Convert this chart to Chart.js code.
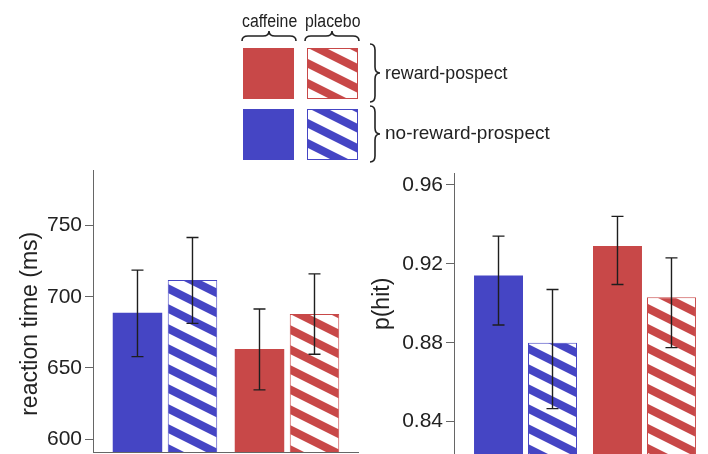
<!DOCTYPE html>
<html lang="en">
<head>
<meta charset="UTF-8">
<title>Caffeine / reward prospect</title>
<script src="https://cdn.jsdelivr.net/npm/chart.js"></script>
<style>
body{margin:0;width:708px;height:454px;overflow:hidden;background:#fff;position:relative;font-family:"Liberation Sans",Arial,sans-serif;color:#222;}
canvas,svg{position:absolute;}
.lbl{position:absolute;white-space:nowrap;line-height:24px;transform-origin:left center;}
</style>
</head>
<body>

<!-- Legend -->
<canvas id="legendBoxes" width="160" height="170" style="left:230px;top:0"></canvas>
<svg width="708" height="170" style="left:0;top:0" fill="none" stroke="#222" stroke-width="1.6">
  <path d="M242,41 Q242,36 248,36 L263,36 Q269,36 269,31 Q269,36 275,36 L290,36 Q296,36 296,41"/>
  <path d="M305,41 Q305,36 311,36 L326,36 Q332,36 332,31 Q332,36 338,36 L353,36 Q359,36 359,41"/>
  <path d="M370,44 Q375,44 375,50 L375,67 Q375,73 380,73 Q375,73 375,79 L375,96 Q375,102 370,102"/>
  <path d="M370,106 Q375,106 375,112 L375,128 Q375,134 380,134 Q375,134 375,140 L375,156 Q375,162 370,162"/>
</svg>
<div class="lbl" style="left:242px;top:9px;font-size:18px;transform:scaleX(0.88)">caffeine</div>
<div class="lbl" style="left:305px;top:9px;font-size:18px;transform:scaleX(0.88)">placebo</div>
<div class="lbl" style="left:385px;top:61px;font-size:17.8px">reward-pospect</div>
<div class="lbl" style="left:385px;top:121px;font-size:19px">no-reward-prospect</div>

<!-- Charts -->
<canvas id="rtChart" width="360" height="340" style="left:0;top:140px"></canvas>
<canvas id="hitChart" width="348" height="340" style="left:360px;top:140px"></canvas>

<script>
// groups: blue = no reward prospect, red = reward prospect
const groups = ["no-reward-prospect", "reward-prospect"];
const conditions = ["caffeine", "placebo"];

const rtCaffeine   = [688.8, 663.3];
const rtPlacebo    = [711.7, 687.9];
const rtCaffeineLo = [658.0, 634.6];
const rtCaffeineHi = [718.7, 691.4];
const rtPlaceboLo  = [681.3, 659.6];
const rtPlaceboHi  = [741.6, 716.1];
const rtTicks = [600, 650, 700, 750];

const hitCaffeine   = [0.914, 0.929];
const hitPlacebo    = [0.880, 0.903];
const hitCaffeineLo = [0.889, 0.9095];
const hitCaffeineHi = [0.934, 0.944];
const hitPlaceboLo  = [0.8466, 0.8775];
const hitPlaceboHi  = [0.907, 0.923];
const hitTicks = [0.84, 0.88, 0.92, 0.96];

const BLUE = "#4545c4";
const RED = "#c84848";
const AXIS = "#666";

Chart.defaults.font.family = '"Liberation Sans", Arial, sans-serif';
Chart.defaults.color = "#222";

function stripes(color){
    const c = document.createElement("canvas");
    c.width = 40; c.height = 20;
    const g = c.getContext("2d");
    g.fillStyle = "#fff";
    g.fillRect(0,0,40,20);
    g.fillStyle = color;
    for(let k=-2;k<=1;k++){
        g.beginPath();
        g.moveTo(0,k*20); g.lineTo(40,k*20+20); g.lineTo(40,k*20+29); g.lineTo(0,k*20+9);
        g.closePath(); g.fill();
    }
    return g.createPattern(c,"repeat");
}
const blueStripes = stripes(BLUE);
const redStripes = stripes(RED);

// legend squares
(function(){
    const g = document.getElementById("legendBoxes").getContext("2d");
    const box = (x,y,fill,stroke) => {
        g.fillStyle = fill; g.fillRect(x,y,51,51);
        if(stroke){ g.strokeStyle = stroke; g.lineWidth = 1; g.strokeRect(x+0.5,y+0.5,50,50); }
    };
    box(13,48,RED);
    box(77,48,redStripes,RED);
    box(13,109,BLUE);
    box(77,109,blueStripes,BLUE);
})();

const errorBars = {
    id: "errorBars",
    afterDatasetsDraw(chart){
        const {ctx, scales:{y}} = chart;
        ctx.save();
        ctx.strokeStyle = "#1e1e1e";
        ctx.lineWidth = 1.4;
        chart.data.datasets.forEach((ds,i) => {
            chart.getDatasetMeta(i).data.forEach((bar,j) => {
                const top = y.getPixelForValue(ds.hi[j]);
                const bot = y.getPixelForValue(ds.lo[j]);
                ctx.beginPath();
                ctx.moveTo(bar.x,top); ctx.lineTo(bar.x,bot);
                ctx.moveTo(bar.x-6,top); ctx.lineTo(bar.x+6,top);
                ctx.moveTo(bar.x-6,bot); ctx.lineTo(bar.x+6,bot);
                ctx.stroke();
            });
        });
        ctx.restore();
    }
};

function makeChart(id, cfg){
    const pts = arr => arr.map((v,i) => ({x:i, y:v}));
    return new Chart(document.getElementById(id), {
        type: "bar",
        data: {
            labels: groups,
            datasets: [
                {label: conditions[0], data: pts(cfg.caf), lo: cfg.cafLo, hi: cfg.cafHi,
                 backgroundColor: [BLUE, RED], borderWidth: 0},
                {label: conditions[1], data: pts(cfg.pla), lo: cfg.plaLo, hi: cfg.plaHi,
                 backgroundColor: [blueStripes, redStripes], borderColor: [BLUE, RED], borderWidth: 1}
            ]
        },
        options: {
            responsive: false,
            animation: false,
            categoryPercentage: cfg.catPct,
            barPercentage: cfg.barPct,
            layout: {padding: cfg.padding},
            plugins: {legend: {display:false}, tooltip: {enabled:false}},
            scales: {
                x: {
                    type: "linear", offset: false, min: cfg.xMin, max: cfg.xMax, display: cfg.xLine,
                    afterBuildTicks: s => { s.ticks = groups.map((g,i) => ({value:i})); },
                    ticks: {display:false},
                    grid: {display:false, drawTicks:false, offset:false},
                    border: {display:true, color:AXIS, width:1}
                },
                y: {
                    min: cfg.yMin, max: cfg.yMax,
                    afterBuildTicks: s => { s.ticks = cfg.ticks.map(v => ({value:v})); },
                    afterFit: s => { s.width = cfg.axisW; },
                    ticks: {font:{size:21}, padding:3, callback: cfg.fmt},
                    grid: {drawOnChartArea:false, drawTicks:true, tickLength:8, color:AXIS},
                    border: {display:true, color:AXIS, width:1},
                    title: {display:true, text:cfg.title, font:{size:23}, padding:{top:cfg.titlePad, bottom:0}}
                }
            }
        },
        plugins: [errorBars]
    });
}

// trailing / leading spaces nudge the rotated titles along the axis like in the original
makeChart("rtChart", {
    caf: rtCaffeine, pla: rtPlacebo, cafLo: rtCaffeineLo, cafHi: rtCaffeineHi, plaLo: rtPlaceboLo, plaHi: rtPlaceboHi,
    ticks: rtTicks, fmt: v => String(v), title: "reaction time (ms)    ",
    yMin: 591, yMax: 789, xMin: -0.59, xMax: 1.582, xLine: true,
    catPct: 0.9016, barPct: 0.9, axisW: 93, titlePad: 17,
    padding: {top:30, bottom:28, left:0, right:2}
});

makeChart("hitChart", {
    caf: hitCaffeine, pla: hitPlacebo, cafLo: hitCaffeineLo, cafHi: hitCaffeineHi, plaLo: hitPlaceboLo, plaHi: hitPlaceboHi,
    ticks: hitTicks, fmt: v => v.toFixed(2), title: "   p(hit)",
    yMin: 0.8236, yMax: 0.966, xMin: -0.601, xMax: 1.517, xLine: false,
    catPct: 0.9076, barPct: 0.907, axisW: 94, titlePad: 9,
    padding: {top:33, bottom:26, left:0, right:2}
});
</script>

</body>
</html>
